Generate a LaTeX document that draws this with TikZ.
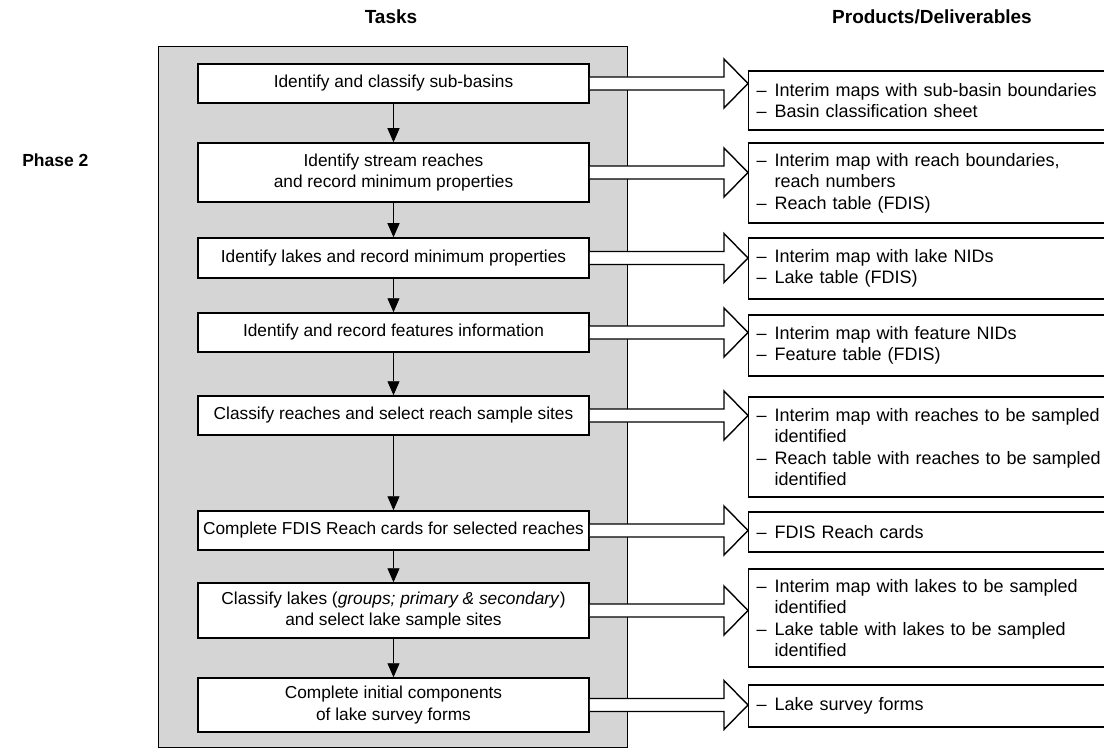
\documentclass[tikz,border=0pt]{standalone}
\usepackage{fontspec}
\setmainfont{Liberation Sans}
\usetikzlibrary{calc,arrows.meta}
\newcommand{\dsh}{\makebox[1.0em][l]{–}}
\newcommand{\ind}{\hspace*{1.0em}}
\begin{document}
\begin{tikzpicture}[x=1pt,y=-1pt,
  task/.style={draw,line width=1.5pt,fill=white,minimum width=391pt,align=center,inner sep=2pt,
     font=\fontsize{17.3}{21.5}\selectfont},
  prod/.style={draw,line width=1.2pt,fill=white,anchor=west,minimum width=390pt,text width=374pt,
     inner xsep=8pt,inner ysep=2pt,align=left,font=\fontsize{18}{21.5}\selectfont},
  head/.style={font=\fontsize{19}{22}\selectfont\bfseries},
  flow/.style={line width=0.9pt,-{Triangle[length=14pt,width=12pt]}},
  blk/.style={draw,line width=1.4pt,fill=white,line join=miter}]
\useasboundingbox (0,0) rectangle (1104,749);
\clip (0,0) rectangle (1104,749);
\fill[white] (0,0) rectangle (1104,749);

% headers
\node[head] (htasks) at (391,17) {Tasks};
\node[head] (hprod) at (932,17) {Products/Deliverables};
\node[font=\fontsize{17.5}{20}\selectfont\bfseries,anchor=east] (phase) at (92,160) {Phase 2};

% gray panel
\node[draw,line width=1.4pt,fill=gray!33,anchor=north west,minimum width=469pt,minimum height=701pt,inner sep=0pt] (panel) at (158,46) {};

% tasks
\node[task,minimum height=39pt] (t1) at (393.5,83.5) {Identify and classify sub-basins};
\node[task,minimum height=59pt] (t2) at (393.5,172.5) {Identify stream reaches\\and record minimum properties};
\node[task,minimum height=40pt] (t3) at (393.5,258) {Identify lakes and record minimum properties};
\node[task,minimum height=39pt] (t4) at (393.5,332.5) {Identify and record features information};
\node[task,minimum height=39pt] (t5) at (393.5,415.5) {Classify reaches and select reach sample sites};
\node[task,minimum height=39pt] (t6) at (393.5,530.5) {Complete FDIS Reach cards for selected reaches};
\node[task,minimum height=55pt] (t7) at (393.5,610.5) {Classify lakes (\textit{groups; primary \& secondary})\\and select lake sample sites};
\node[task,minimum height=54pt] (t8) at (393.5,705) {Complete initial components\\of lake survey forms};

% flow arrows
\draw[flow] (t1) -- (t2);
\draw[flow] (t2) -- (t3);
\draw[flow] (t3) -- (t4);
\draw[flow] (t4) -- (t5);
\draw[flow] (t5) -- (t6);
\draw[flow] (t6) -- (t7);
\draw[flow] (t7) -- (t8);

% products
\node[prod,minimum height=59pt] (p1) at (748,100.5) {\dsh Interim maps with sub-basin boundaries\\\dsh Basin classification sheet};
\node[prod,minimum height=80pt] (p2) at (748,183) {\dsh Interim map with reach boundaries,\\\ind reach numbers\\\dsh Reach table (FDIS)};
\node[prod,minimum height=61pt] (p3) at (748,268.5) {\dsh Interim map with lake NIDs\\\dsh Lake table (FDIS)};
\node[prod,minimum height=61pt] (p4) at (748,345.5) {\dsh Interim map with feature NIDs\\\dsh Feature table (FDIS)};
\node[prod,minimum height=100pt] (p5) at (748,447) {\dsh Interim map with reaches to be sampled\\\ind identified\\\dsh Reach table with reaches to be sampled\\\ind identified};
\node[prod,minimum height=40pt] (p6) at (748,532) {\dsh FDIS Reach cards};
\node[prod,minimum height=98pt] (p7) at (748,618) {\dsh Interim map with lakes to be sampled\\\ind identified\\\dsh Lake table with lakes to be sampled\\\ind identified};
\node[prod,minimum height=42pt] (p8) at (748,706) {\dsh Lake survey forms};

% block arrows
\foreach \i in {1,...,8}{
  \draw[blk] ($(t\i.east)+(0,-6.5)$) -- ($(p\i.west|-t\i.east)+(-24,-6.5)$) -- ++(0,-18)
     -- (p\i.west|-t\i.east) -- ++(-24,24.5) -- ++(0,-18) -- ($(t\i.east)+(0,6.5)$);
}
\end{tikzpicture}
\end{document}
